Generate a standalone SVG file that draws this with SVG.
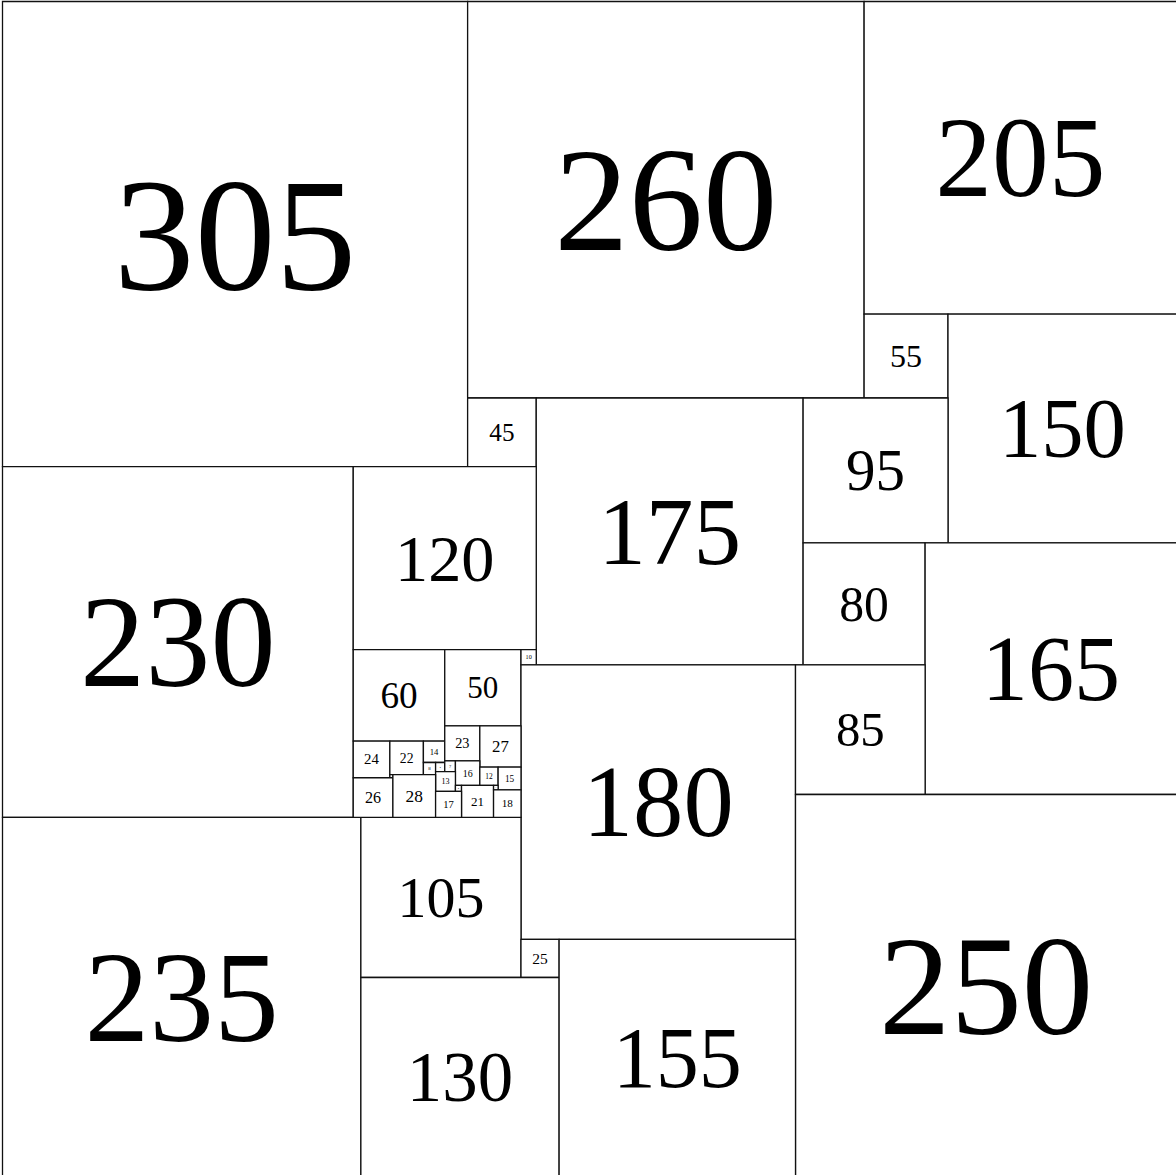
<svg xmlns="http://www.w3.org/2000/svg" width="1176" height="1175" viewBox="0 0 1176 1175">
<style>
.sq{fill:#fff;stroke:#111;stroke-width:1.3;vector-effect:non-scaling-stroke}
.lb{font-family:"Liberation Serif","Times New Roman",serif;text-anchor:middle;fill:#000}
</style>
<rect x="0" y="0" width="1176" height="1175" fill="#fff"/>
<g transform="translate(2.5,1.5) scale(1.525)">
<g id="s305"><rect class="sq" x="0" y="0" width="305" height="305"/><text class="lb" x="152.5" y="188.54" font-size="106">305</text></g>
<g id="s260"><rect class="sq" x="305" y="0" width="260" height="260"/><text class="lb" x="435" y="163.15" font-size="97.5">260</text></g>
<g id="s205"><rect class="sq" x="565" y="0" width="205" height="205"/><text class="lb" x="667.5" y="127.83" font-size="74.5">205</text></g>
<g id="s55"><rect class="sq" x="565" y="205" width="55" height="55"/><text class="lb" x="592.5" y="239.64" font-size="21">55</text></g>
<g id="s150"><rect class="sq" x="620" y="205" width="150" height="150"/><text class="lb" x="695" y="298.87" font-size="55.5">150</text></g>
<g id="s45"><rect class="sq" x="305" y="260" width="45" height="45"/><text class="lb" x="327.5" y="288.11" font-size="16.5">45</text></g>
<g id="s175"><rect class="sq" x="350" y="260" width="175" height="175"/><text class="lb" x="437.5" y="368.75" font-size="62.5">175</text></g>
<g id="s95"><rect class="sq" x="525" y="260" width="95" height="95"/><text class="lb" x="572.5" y="320.65" font-size="38.67">95</text></g>
<g id="s230"><rect class="sq" x="0" y="305" width="230" height="230"/><text class="lb" x="115" y="449.07" font-size="85.5">230</text></g>
<g id="s120"><rect class="sq" x="230" y="305" width="120" height="120"/><text class="lb" x="290" y="379.79" font-size="43.5">120</text></g>
<g id="s80"><rect class="sq" x="525" y="355" width="80" height="80"/><text class="lb" x="565" y="406.07" font-size="32.56">80</text></g>
<g id="s165"><rect class="sq" x="605" y="355" width="165" height="165"/><text class="lb" x="687.5" y="458.07" font-size="60.5">165</text></g>
<g id="s60"><rect class="sq" x="230" y="425" width="60" height="60"/><text class="lb" x="260" y="463.3" font-size="24.42">60</text></g>
<g id="s50"><rect class="sq" x="290" y="425" width="50" height="50"/><text class="lb" x="315" y="456.92" font-size="20.35">50</text></g>
<g id="s10"><rect class="sq" x="340" y="425" width="10" height="10"/><text class="lb" x="345" y="431.38" font-size="4.07">10</text></g>
<g id="s180"><rect class="sq" x="340" y="435" width="180" height="180"/><text class="lb" x="430" y="547.44" font-size="66">180</text></g>
<g id="s85"><rect class="sq" x="520" y="435" width="85" height="85"/><text class="lb" x="562.5" y="488.38" font-size="32">85</text></g>
<g id="s250"><rect class="sq" x="520" y="520" width="250" height="250"/><text class="lb" x="645" y="676.88" font-size="93.75">250</text></g>
<g id="s235"><rect class="sq" x="0" y="535" width="235" height="235"/><text class="lb" x="117.5" y="681.4" font-size="85">235</text></g>
<g id="s105"><rect class="sq" x="235" y="535" width="105" height="105"/><text class="lb" x="287.5" y="600.42" font-size="38">105</text></g>
<g id="s25"><rect class="sq" x="340" y="615" width="25" height="25"/><text class="lb" x="352.5" y="630.96" font-size="10.18">25</text></g>
<g id="s130"><rect class="sq" x="235" y="640" width="130" height="130"/><text class="lb" x="300" y="720.81" font-size="46.5">130</text></g>
<g id="s155"><rect class="sq" x="365" y="615" width="155" height="155"/><text class="lb" x="442.5" y="711.71" font-size="56.5">155</text></g>
<g id="s24"><rect class="sq" x="230" y="485" width="24" height="24"/><text class="lb" x="242" y="500.32" font-size="9.77">24</text></g>
<g id="s22"><rect class="sq" x="254" y="485" width="22" height="22"/><text class="lb" x="265" y="499.04" font-size="8.95">22</text></g>
<g id="s14"><rect class="sq" x="276" y="485" width="14" height="14"/><text class="lb" x="283" y="493.94" font-size="5.7">14</text></g>
<g id="s23"><rect class="sq" x="290" y="475" width="23" height="23"/><text class="lb" x="301.5" y="489.68" font-size="9.36">23</text></g>
<g id="s27"><rect class="sq" x="313" y="475" width="27" height="27"/><text class="lb" x="326.5" y="492.24" font-size="10.99">27</text></g>
<g id="s8"><rect class="sq" x="276" y="499" width="8" height="8"/><text class="lb" x="280" y="504.11" font-size="3.26">8</text></g>
<g id="s4a"><rect class="sq" x="284" y="499" width="6" height="6"/><text class="lb" x="287" y="502.61" font-size="1.8">4</text></g>
<g id="s7"><rect class="sq" x="290" y="498" width="7" height="7"/><text class="lb" x="293.5" y="502.47" font-size="2.85">7</text></g>
<g id="s16"><rect class="sq" x="297" y="498" width="16" height="16"/><text class="lb" x="305" y="508.21" font-size="6.51">16</text></g>
<g id="s12"><rect class="sq" x="313" y="502" width="12" height="12"/><text class="lb" x="319" y="509.66" font-size="4.88">12</text></g>
<g id="s15"><rect class="sq" x="325" y="502" width="15" height="15"/><text class="lb" x="332.5" y="511.58" font-size="6.11">15</text></g>
<g id="s13"><rect class="sq" x="284" y="505" width="13" height="13"/><text class="lb" x="290.5" y="513.3" font-size="5.29">13</text></g>
<g id="s2"><rect class="sq" x="254" y="507" width="2" height="2"/></g>
<g id="s26"><rect class="sq" x="230" y="509" width="26" height="26"/><text class="lb" x="243" y="525.6" font-size="10.58">26</text></g>
<g id="s28"><rect class="sq" x="256" y="507" width="28" height="28"/><text class="lb" x="270" y="524.88" font-size="11.4">28</text></g>
<g id="s4b"><rect class="sq" x="297" y="514" width="4" height="4"/><text class="lb" x="299" y="516.55" font-size="1.63">4</text></g>
<g id="s21"><rect class="sq" x="301" y="514" width="21" height="21"/><text class="lb" x="311.5" y="527.41" font-size="8.55">21</text></g>
<g id="s3"><rect class="sq" x="322" y="514" width="3" height="3"/><text class="lb" x="323.5" y="515.91" font-size="1.22">3</text></g>
<g id="s17"><rect class="sq" x="284" y="518" width="17" height="17"/><text class="lb" x="292.5" y="528.85" font-size="6.92">17</text></g>
<g id="s18"><rect class="sq" x="322" y="517" width="18" height="18"/><text class="lb" x="331" y="528.49" font-size="7.33">18</text></g>
</g>
<g id="connectors"/>
</svg>
